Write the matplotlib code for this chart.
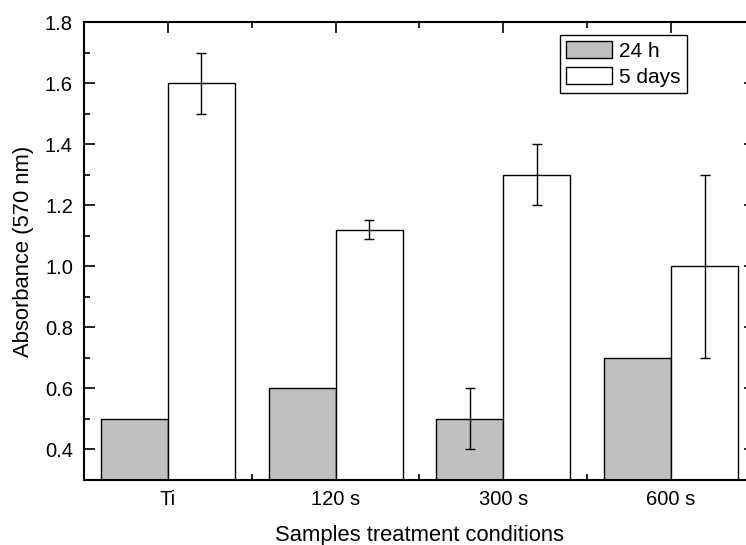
import numpy as np
import matplotlib.pyplot as plt
from matplotlib.ticker import MultipleLocator

plt.rcParams['font.family'] = ['Liberation Sans', 'DejaVu Sans']

categories = ['Ti', '120 s', '300 s', '600 s']
h24 = [0.5, 0.6, 0.5, 0.7]
h24_err = [0.0, 0.0, 0.1, 0.0]
days5 = [1.6, 1.12, 1.3, 1.0]
days5_err = [0.1, 0.03, 0.1, 0.3]

x = np.arange(1, len(categories) + 1)
w = 0.4

fig = plt.figure(figsize=(7.46, 5.45), dpi=100)
ax = fig.add_axes([0.1126, 0.1193, 0.8994, 0.8403])

ax.bar(x - w / 2, h24, width=w, color='#c0c0c0', edgecolor='black', linewidth=1.0,
       label='24 h', zorder=2)
ax.bar(x + w / 2, days5, width=w, color='white', edgecolor='black', linewidth=1.0,
       label='5 days', zorder=2)
# only the 300 s sample has a visible error bar at 24 h
ax.errorbar(x[2] - w / 2, h24[2], yerr=h24_err[2], fmt='none', ecolor='black',
            elinewidth=1.0, capsize=3.3, capthick=1.0, zorder=3)
ax.errorbar(x + w / 2, days5, yerr=days5_err, fmt='none', ecolor='black',
            elinewidth=1.0, capsize=3.3, capthick=1.0, zorder=3)

ax.set_xlim(0.5, 4.5)
ax.set_ylim(0.3, 1.8)
ax.set_xticks(x)
ax.set_xticklabels(categories)
ax.xaxis.set_minor_locator(MultipleLocator(0.5))
ax.yaxis.set_major_locator(MultipleLocator(0.2))
ax.yaxis.set_minor_locator(MultipleLocator(0.1))
ax.tick_params(which='both', direction='in', top=True, right=True, labelsize=14.5, width=1.2)
ax.tick_params(which='major', length=8)
ax.tick_params(which='minor', length=4)
ax.tick_params(axis='y', pad=8)
ax.tick_params(axis='x', pad=7)
for s in ax.spines.values():
    s.set_linewidth(1.5)

ax.set_xlabel('Samples treatment conditions', fontsize=15.8, labelpad=12)
ax.set_ylabel('Absorbance (570 nm)', fontsize=15.8, labelpad=8)

leg = ax.legend(loc='upper left', bbox_to_anchor=(0.709, 0.972), fontsize=15,
                frameon=True, fancybox=False, edgecolor='black', handlelength=2.2,
                handleheight=0.9, borderpad=0.3, labelspacing=0.3, handletextpad=0.35,
                borderaxespad=0, framealpha=1)
leg.get_frame().set_linewidth(1.0)

fig.savefig('out.png', dpi=100)
